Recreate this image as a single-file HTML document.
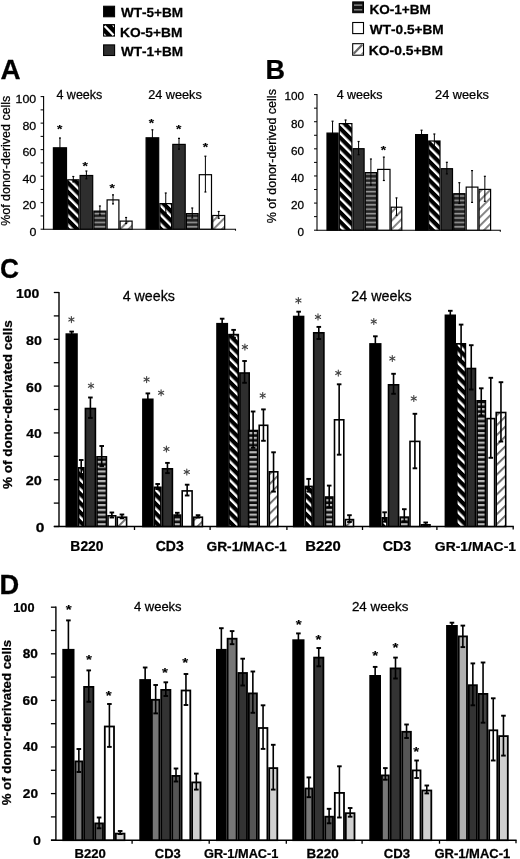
<!DOCTYPE html>
<html><head><meta charset="utf-8"><title>Figure</title>
<style>
html,body{margin:0;padding:0;background:#fff;width:520px;height:859px;overflow:hidden}
svg{display:block;will-change:transform;filter:blur(0.35px);font-family:"Liberation Sans",sans-serif;font-kerning:none}
text{font-kerning:none;stroke:#000;stroke-width:0.25px}
</style></head><body>
<svg width="520" height="859" viewBox="0 0 520 859">
<defs>
<pattern id="hatch" patternUnits="userSpaceOnUse" width="6.6" height="6.6" patternTransform="rotate(-45)">
  <rect width="6.6" height="6.6" fill="#000"/><rect x="0" y="0" width="2.4" height="6.6" fill="#fff"/>
</pattern>
<pattern id="hstripe" patternUnits="userSpaceOnUse" width="10" height="4.4">
  <rect width="10" height="4.4" fill="#222"/><rect x="0" y="1.6" width="10" height="1.6" fill="#9a9a9a"/>
</pattern>
<pattern id="hstripeC" patternUnits="userSpaceOnUse" width="10" height="4.8">
  <rect width="10" height="4.8" fill="#0c0c0c"/><rect x="0" y="0" width="10" height="2.2" fill="#b8b8b8"/>
</pattern>
<pattern id="lhatchC" patternUnits="userSpaceOnUse" width="7" height="7" patternTransform="rotate(45)">
  <rect width="7" height="7" fill="#fff"/><rect x="0" y="0" width="1.8" height="7" fill="#666"/>
</pattern>
<pattern id="lhatch" patternUnits="userSpaceOnUse" width="6" height="6" patternTransform="rotate(45)">
  <rect width="6" height="6" fill="#fff"/><rect x="0" y="0" width="1.9" height="6" fill="#808080"/>
</pattern>
</defs>
<rect width="520" height="859" fill="#fff"/>
<rect x="103.6" y="6.2" width="11" height="10.6" fill="#000" stroke="#000" stroke-width="1"/>
<rect x="103.6" y="24.6" width="10.9" height="11.5" fill="#000" stroke="#000" stroke-width="1"/>
<line x1="104.6" y1="26.0" x2="113.6" y2="35.2" stroke="#fff" stroke-width="2.3"/>
<polygon points="111.9,25.4 114.0,25.4 114.0,27.6" fill="#fff"/>
<polygon points="104.2,33.2 104.2,35.4 106.4,35.4" fill="#fff"/>
<rect x="103.6" y="44.9" width="11" height="10.6" fill="#2e2e2e" stroke="#000" stroke-width="1.1"/>
<text transform="translate(120.99 16.9) scale(1.0478 1)" font-size="12.94" font-weight="bold" fill="#000">WT-5+BM</text>
<text transform="translate(120.08 37) scale(1.0581 1)" font-size="13.03" font-weight="bold" fill="#000">KO-5+BM</text>
<text transform="translate(120.99 56.1) scale(1.0478 1)" font-size="12.94" font-weight="bold" fill="#000">WT-1+BM</text>
<rect x="352.7" y="1.9" width="10.8" height="10.8" fill="#111" stroke="#000" stroke-width="1"/>
<rect x="354" y="4.4" width="8.2" height="1.4" fill="#8a8a8a"/>
<rect x="354" y="9.1" width="8.2" height="1.4" fill="#8a8a8a"/>
<rect x="352.7" y="22.5" width="10.8" height="11.1" fill="#fff" stroke="#000" stroke-width="1.1"/>
<rect x="352.7" y="43.7" width="10.8" height="11.5" fill="#fff" stroke="#000" stroke-width="1.1"/>
<line x1="353.6" y1="53.8" x2="362.2" y2="44.8" stroke="#666" stroke-width="2.2"/>
<polygon points="363,51.8 363,54.7 360.2,54.7" fill="#888"/>
<text transform="translate(369.39 13.9) scale(1.0540 1)" font-size="12.89" font-weight="bold" fill="#000">KO-1+BM</text>
<text transform="translate(369.79 34.2) scale(1.0843 1)" font-size="12.6" font-weight="bold" fill="#000">WT-0.5+BM</text>
<text transform="translate(368.87 55.3) scale(1.0864 1)" font-size="12.75" font-weight="bold" fill="#000">KO-0.5+BM</text>
<text transform="translate(0.51 79.3) scale(1.0200 1)" font-size="27.33" font-weight="bold" fill="#000">A</text>
<text transform="translate(265.49 79.3) scale(0.9745 1)" font-size="27.76" font-weight="bold" fill="#000">B</text>
<text transform="translate(0.12 278.4) scale(0.9372 1)" font-size="28.07" font-weight="bold" fill="#000">C</text>
<text transform="translate(-0.38 593.7) scale(0.9636 1)" font-size="28.34" font-weight="bold" fill="#000">D</text>
<line x1="43.6" y1="96.1" x2="43.6" y2="229.7" stroke="#000" stroke-width="1.1" stroke-linecap="butt"/>
<line x1="43.6" y1="229.2" x2="236" y2="229.2" stroke="#000" stroke-width="1.1" stroke-linecap="butt"/>
<line x1="235.5" y1="229.2" x2="235.5" y2="230.7" stroke="#000" stroke-width="1.1" stroke-linecap="butt"/>
<line x1="40.6" y1="229.2" x2="43.6" y2="229.2" stroke="#000" stroke-width="1" stroke-linecap="butt"/>
<text transform="translate(29.38 235.71) scale(1.0800 1)" font-size="11.5" fill="#000">0</text>
<line x1="40.6" y1="215.94" x2="43.6" y2="215.94" stroke="#000" stroke-width="1" stroke-linecap="butt"/>
<line x1="40.6" y1="202.68" x2="43.6" y2="202.68" stroke="#000" stroke-width="1" stroke-linecap="butt"/>
<text transform="translate(22.47 209.19) scale(1.0800 1)" font-size="11.5" fill="#000">20</text>
<line x1="40.6" y1="189.42" x2="43.6" y2="189.42" stroke="#000" stroke-width="1" stroke-linecap="butt"/>
<line x1="40.6" y1="176.16" x2="43.6" y2="176.16" stroke="#000" stroke-width="1" stroke-linecap="butt"/>
<text transform="translate(22.47 182.67) scale(1.0800 1)" font-size="11.5" fill="#000">40</text>
<line x1="40.6" y1="162.9" x2="43.6" y2="162.9" stroke="#000" stroke-width="1" stroke-linecap="butt"/>
<line x1="40.6" y1="149.64" x2="43.6" y2="149.64" stroke="#000" stroke-width="1" stroke-linecap="butt"/>
<text transform="translate(22.47 156.15) scale(1.0800 1)" font-size="11.5" fill="#000">60</text>
<line x1="40.6" y1="136.38" x2="43.6" y2="136.38" stroke="#000" stroke-width="1" stroke-linecap="butt"/>
<line x1="40.6" y1="123.12" x2="43.6" y2="123.12" stroke="#000" stroke-width="1" stroke-linecap="butt"/>
<text transform="translate(22.47 129.63) scale(1.0800 1)" font-size="11.5" fill="#000">80</text>
<line x1="40.6" y1="109.86" x2="43.6" y2="109.86" stroke="#000" stroke-width="1" stroke-linecap="butt"/>
<line x1="40.6" y1="96.6" x2="43.6" y2="96.6" stroke="#000" stroke-width="1" stroke-linecap="butt"/>
<text transform="translate(15.56 103.11) scale(1.0800 1)" font-size="11.5" fill="#000">100</text>
<text transform="translate(10 225.84) rotate(-90) scale(1.0267 1)" font-size="12.14" fill="#000">%of donor-derived cells</text>
<text transform="translate(56.41 98.8) scale(1.0082 1)" font-size="12.42" fill="#000">4 weeks</text>
<text transform="translate(148.16 99.2) scale(0.9992 1)" font-size="12.7" fill="#000">24 weeks</text>
<rect x="53.4" y="147.8" width="13.1" height="81.4" fill="#000" stroke="#000" stroke-width="1.2"/>
<rect x="67.7" y="179.8" width="11.2" height="49.4" fill="url(#hatch)" stroke="#000" stroke-width="1.2"/>
<rect x="80.1" y="175.5" width="12.6" height="53.7" fill="#2e2e2e" stroke="#000" stroke-width="1.2"/>
<rect x="93.9" y="211.1" width="12" height="18.1" fill="url(#hstripe)" stroke="#000" stroke-width="1.2"/>
<rect x="107.1" y="199.9" width="11.8" height="29.3" fill="#fff" stroke="#000" stroke-width="1.2"/>
<rect x="120.1" y="221.1" width="12" height="8.1" fill="url(#lhatch)" stroke="#000" stroke-width="1.2"/>
<line x1="59.95" y1="138" x2="59.95" y2="156.4" stroke="#000" stroke-width="1" stroke-linecap="butt"/>
<line x1="58.95" y1="138" x2="60.95" y2="138" stroke="#000" stroke-width="1.2" stroke-linecap="butt"/>
<line x1="58.95" y1="156.4" x2="60.95" y2="156.4" stroke="#000" stroke-width="1.2" stroke-linecap="butt"/>
<line x1="73.3" y1="176.5" x2="73.3" y2="181.9" stroke="#000" stroke-width="1" stroke-linecap="butt"/>
<line x1="72.3" y1="176.5" x2="74.3" y2="176.5" stroke="#000" stroke-width="1.2" stroke-linecap="butt"/>
<line x1="72.3" y1="181.9" x2="74.3" y2="181.9" stroke="#000" stroke-width="1.2" stroke-linecap="butt"/>
<line x1="86.4" y1="171" x2="86.4" y2="178.8" stroke="#000" stroke-width="1" stroke-linecap="butt"/>
<line x1="85.4" y1="171" x2="87.4" y2="171" stroke="#000" stroke-width="1.2" stroke-linecap="butt"/>
<line x1="85.4" y1="178.8" x2="87.4" y2="178.8" stroke="#000" stroke-width="1.2" stroke-linecap="butt"/>
<line x1="99.9" y1="206" x2="99.9" y2="215" stroke="#000" stroke-width="1" stroke-linecap="butt"/>
<line x1="98.9" y1="206" x2="100.9" y2="206" stroke="#000" stroke-width="1.2" stroke-linecap="butt"/>
<line x1="98.9" y1="215" x2="100.9" y2="215" stroke="#000" stroke-width="1.2" stroke-linecap="butt"/>
<line x1="113" y1="194.8" x2="113" y2="203.8" stroke="#000" stroke-width="1" stroke-linecap="butt"/>
<line x1="112" y1="194.8" x2="114" y2="194.8" stroke="#000" stroke-width="1.2" stroke-linecap="butt"/>
<line x1="112" y1="203.8" x2="114" y2="203.8" stroke="#000" stroke-width="1.2" stroke-linecap="butt"/>
<line x1="126.1" y1="217.5" x2="126.1" y2="223.5" stroke="#000" stroke-width="1" stroke-linecap="butt"/>
<line x1="125.1" y1="217.5" x2="127.1" y2="217.5" stroke="#000" stroke-width="1.2" stroke-linecap="butt"/>
<line x1="125.1" y1="223.5" x2="127.1" y2="223.5" stroke="#000" stroke-width="1.2" stroke-linecap="butt"/>
<text transform="translate(59.7 127.6) scale(1 0.85)" x="-2.7" y="6.93" font-size="13.8" font-weight="bold" fill="#000" style="stroke-width:0.15px">*</text>
<text transform="translate(85.2 164.2) scale(1 0.85)" x="-2.7" y="6.93" font-size="13.8" font-weight="bold" fill="#000" style="stroke-width:0.15px">*</text>
<text transform="translate(112.2 186.2) scale(1 0.85)" x="-2.7" y="6.93" font-size="13.8" font-weight="bold" fill="#000" style="stroke-width:0.15px">*</text>
<rect x="146.1" y="137.8" width="12.6" height="91.4" fill="#000" stroke="#000" stroke-width="1.2"/>
<rect x="159.9" y="203.6" width="11.7" height="25.6" fill="url(#hatch)" stroke="#000" stroke-width="1.2"/>
<rect x="172.8" y="144.4" width="12.4" height="84.8" fill="#2e2e2e" stroke="#000" stroke-width="1.2"/>
<rect x="186.4" y="213.6" width="11.7" height="15.6" fill="url(#hstripe)" stroke="#000" stroke-width="1.2"/>
<rect x="199.3" y="174.7" width="12.2" height="54.5" fill="#fff" stroke="#000" stroke-width="1.2"/>
<rect x="212.7" y="215.5" width="12" height="13.7" fill="url(#lhatch)" stroke="#000" stroke-width="1.2"/>
<line x1="152.4" y1="129.8" x2="152.4" y2="144.6" stroke="#000" stroke-width="1" stroke-linecap="butt"/>
<line x1="151.4" y1="129.8" x2="153.4" y2="129.8" stroke="#000" stroke-width="1.2" stroke-linecap="butt"/>
<line x1="151.4" y1="144.6" x2="153.4" y2="144.6" stroke="#000" stroke-width="1.2" stroke-linecap="butt"/>
<line x1="165.75" y1="193" x2="165.75" y2="213" stroke="#000" stroke-width="1" stroke-linecap="butt"/>
<line x1="164.75" y1="193" x2="166.75" y2="193" stroke="#000" stroke-width="1.2" stroke-linecap="butt"/>
<line x1="164.75" y1="213" x2="166.75" y2="213" stroke="#000" stroke-width="1.2" stroke-linecap="butt"/>
<line x1="179" y1="138.4" x2="179" y2="149.2" stroke="#000" stroke-width="1" stroke-linecap="butt"/>
<line x1="178" y1="138.4" x2="180" y2="138.4" stroke="#000" stroke-width="1.2" stroke-linecap="butt"/>
<line x1="178" y1="149.2" x2="180" y2="149.2" stroke="#000" stroke-width="1.2" stroke-linecap="butt"/>
<line x1="192.25" y1="208" x2="192.25" y2="218" stroke="#000" stroke-width="1" stroke-linecap="butt"/>
<line x1="191.25" y1="208" x2="193.25" y2="208" stroke="#000" stroke-width="1.2" stroke-linecap="butt"/>
<line x1="191.25" y1="218" x2="193.25" y2="218" stroke="#000" stroke-width="1.2" stroke-linecap="butt"/>
<line x1="205.4" y1="156.2" x2="205.4" y2="192" stroke="#000" stroke-width="1" stroke-linecap="butt"/>
<line x1="204.4" y1="156.2" x2="206.4" y2="156.2" stroke="#000" stroke-width="1.2" stroke-linecap="butt"/>
<line x1="204.4" y1="192" x2="206.4" y2="192" stroke="#000" stroke-width="1.2" stroke-linecap="butt"/>
<line x1="218.7" y1="211.5" x2="218.7" y2="218.3" stroke="#000" stroke-width="1" stroke-linecap="butt"/>
<line x1="217.7" y1="211.5" x2="219.7" y2="211.5" stroke="#000" stroke-width="1.2" stroke-linecap="butt"/>
<line x1="217.7" y1="218.3" x2="219.7" y2="218.3" stroke="#000" stroke-width="1.2" stroke-linecap="butt"/>
<text transform="translate(151.5 120.9) scale(1 0.85)" x="-2.7" y="6.93" font-size="13.8" font-weight="bold" fill="#000" style="stroke-width:0.15px">*</text>
<text transform="translate(178.6 126.8) scale(1 0.85)" x="-2.7" y="6.93" font-size="13.8" font-weight="bold" fill="#000" style="stroke-width:0.15px">*</text>
<text transform="translate(205.4 145.3) scale(1 0.85)" x="-2.7" y="6.93" font-size="13.8" font-weight="bold" fill="#000" style="stroke-width:0.15px">*</text>
<line x1="317" y1="94.1" x2="317" y2="230.7" stroke="#000" stroke-width="1.1" stroke-linecap="butt"/>
<line x1="317" y1="230.2" x2="500.8" y2="230.2" stroke="#000" stroke-width="1.1" stroke-linecap="butt"/>
<line x1="500.3" y1="230.2" x2="500.3" y2="231.7" stroke="#000" stroke-width="1.1" stroke-linecap="butt"/>
<line x1="314" y1="230.2" x2="317" y2="230.2" stroke="#000" stroke-width="1" stroke-linecap="butt"/>
<text transform="translate(297.61 236.01) scale(1.0800 1)" font-size="10.9" fill="#000">0</text>
<line x1="314" y1="216.64" x2="317" y2="216.64" stroke="#000" stroke-width="1" stroke-linecap="butt"/>
<line x1="314" y1="203.08" x2="317" y2="203.08" stroke="#000" stroke-width="1" stroke-linecap="butt"/>
<text transform="translate(291.07 208.89) scale(1.0800 1)" font-size="10.9" fill="#000">20</text>
<line x1="314" y1="189.52" x2="317" y2="189.52" stroke="#000" stroke-width="1" stroke-linecap="butt"/>
<line x1="314" y1="175.96" x2="317" y2="175.96" stroke="#000" stroke-width="1" stroke-linecap="butt"/>
<text transform="translate(291.07 181.77) scale(1.0800 1)" font-size="10.9" fill="#000">40</text>
<line x1="314" y1="162.4" x2="317" y2="162.4" stroke="#000" stroke-width="1" stroke-linecap="butt"/>
<line x1="314" y1="148.84" x2="317" y2="148.84" stroke="#000" stroke-width="1" stroke-linecap="butt"/>
<text transform="translate(291.07 154.65) scale(1.0800 1)" font-size="10.9" fill="#000">60</text>
<line x1="314" y1="135.28" x2="317" y2="135.28" stroke="#000" stroke-width="1" stroke-linecap="butt"/>
<line x1="314" y1="121.72" x2="317" y2="121.72" stroke="#000" stroke-width="1" stroke-linecap="butt"/>
<text transform="translate(291.07 127.53) scale(1.0800 1)" font-size="10.9" fill="#000">80</text>
<line x1="314" y1="108.16" x2="317" y2="108.16" stroke="#000" stroke-width="1" stroke-linecap="butt"/>
<line x1="314" y1="94.6" x2="317" y2="94.6" stroke="#000" stroke-width="1" stroke-linecap="butt"/>
<text transform="translate(284.52 100.41) scale(1.0800 1)" font-size="10.9" fill="#000">100</text>
<text transform="translate(276.3 223.25) rotate(-90) scale(1.0427 1)" font-size="12.01" fill="#000">% of donor-derived cells</text>
<text transform="translate(336.71 99) scale(1.0266 1)" font-size="12.14" fill="#000">4 weeks</text>
<text transform="translate(435.06 99.4) scale(1.0273 1)" font-size="12.42" fill="#000">24 weeks</text>
<rect x="327" y="133.1" width="11.1" height="97.1" fill="#000" stroke="#000" stroke-width="1.2"/>
<rect x="339.3" y="123.6" width="12.6" height="106.6" fill="url(#hatch)" stroke="#000" stroke-width="1.2"/>
<rect x="353.1" y="148.7" width="11" height="81.5" fill="#2e2e2e" stroke="#000" stroke-width="1.2"/>
<rect x="365.3" y="172.6" width="11.2" height="57.6" fill="url(#hstripe)" stroke="#000" stroke-width="1.2"/>
<rect x="377.7" y="169.4" width="12.3" height="60.8" fill="#fff" stroke="#000" stroke-width="1.2"/>
<rect x="391.2" y="207.2" width="10.6" height="23" fill="url(#lhatch)" stroke="#000" stroke-width="1.2"/>
<line x1="332.55" y1="121.2" x2="332.55" y2="143.8" stroke="#000" stroke-width="1" stroke-linecap="butt"/>
<line x1="331.55" y1="121.2" x2="333.55" y2="121.2" stroke="#000" stroke-width="1.2" stroke-linecap="butt"/>
<line x1="331.55" y1="143.8" x2="333.55" y2="143.8" stroke="#000" stroke-width="1.2" stroke-linecap="butt"/>
<line x1="345.6" y1="120" x2="345.6" y2="126" stroke="#000" stroke-width="1" stroke-linecap="butt"/>
<line x1="344.6" y1="120" x2="346.6" y2="120" stroke="#000" stroke-width="1.2" stroke-linecap="butt"/>
<line x1="344.6" y1="126" x2="346.6" y2="126" stroke="#000" stroke-width="1.2" stroke-linecap="butt"/>
<line x1="358.6" y1="141.5" x2="358.6" y2="154.7" stroke="#000" stroke-width="1" stroke-linecap="butt"/>
<line x1="357.6" y1="141.5" x2="359.6" y2="141.5" stroke="#000" stroke-width="1.2" stroke-linecap="butt"/>
<line x1="357.6" y1="154.7" x2="359.6" y2="154.7" stroke="#000" stroke-width="1.2" stroke-linecap="butt"/>
<line x1="370.9" y1="159" x2="370.9" y2="185" stroke="#000" stroke-width="1" stroke-linecap="butt"/>
<line x1="369.9" y1="159" x2="371.9" y2="159" stroke="#000" stroke-width="1.2" stroke-linecap="butt"/>
<line x1="369.9" y1="185" x2="371.9" y2="185" stroke="#000" stroke-width="1.2" stroke-linecap="butt"/>
<line x1="383.85" y1="157.1" x2="383.85" y2="180.5" stroke="#000" stroke-width="1" stroke-linecap="butt"/>
<line x1="382.85" y1="157.1" x2="384.85" y2="157.1" stroke="#000" stroke-width="1.2" stroke-linecap="butt"/>
<line x1="382.85" y1="180.5" x2="384.85" y2="180.5" stroke="#000" stroke-width="1.2" stroke-linecap="butt"/>
<line x1="396.5" y1="197.9" x2="396.5" y2="215.3" stroke="#000" stroke-width="1" stroke-linecap="butt"/>
<line x1="395.5" y1="197.9" x2="397.5" y2="197.9" stroke="#000" stroke-width="1.2" stroke-linecap="butt"/>
<line x1="395.5" y1="215.3" x2="397.5" y2="215.3" stroke="#000" stroke-width="1.2" stroke-linecap="butt"/>
<text transform="translate(383.4 148.4) scale(1 0.85)" x="-2.7" y="6.93" font-size="13.8" font-weight="bold" fill="#000" style="stroke-width:0.15px">*</text>
<rect x="415.6" y="134.6" width="11.9" height="95.6" fill="#000" stroke="#000" stroke-width="1.2"/>
<rect x="428.7" y="141" width="11.3" height="89.2" fill="url(#hatch)" stroke="#000" stroke-width="1.2"/>
<rect x="441.2" y="168.7" width="11.3" height="61.5" fill="#2e2e2e" stroke="#000" stroke-width="1.2"/>
<rect x="453.7" y="193.7" width="11.3" height="36.5" fill="url(#hstripe)" stroke="#000" stroke-width="1.2"/>
<rect x="466.2" y="187.1" width="11.7" height="43.1" fill="#fff" stroke="#000" stroke-width="1.2"/>
<rect x="479.1" y="189.4" width="11.5" height="40.8" fill="url(#lhatch)" stroke="#000" stroke-width="1.2"/>
<line x1="421.55" y1="130.2" x2="421.55" y2="137.8" stroke="#000" stroke-width="1" stroke-linecap="butt"/>
<line x1="420.55" y1="130.2" x2="422.55" y2="130.2" stroke="#000" stroke-width="1.2" stroke-linecap="butt"/>
<line x1="420.55" y1="137.8" x2="422.55" y2="137.8" stroke="#000" stroke-width="1.2" stroke-linecap="butt"/>
<line x1="434.35" y1="134" x2="434.35" y2="146.8" stroke="#000" stroke-width="1" stroke-linecap="butt"/>
<line x1="433.35" y1="134" x2="435.35" y2="134" stroke="#000" stroke-width="1.2" stroke-linecap="butt"/>
<line x1="433.35" y1="146.8" x2="435.35" y2="146.8" stroke="#000" stroke-width="1.2" stroke-linecap="butt"/>
<line x1="446.85" y1="162.3" x2="446.85" y2="173.9" stroke="#000" stroke-width="1" stroke-linecap="butt"/>
<line x1="445.85" y1="162.3" x2="447.85" y2="162.3" stroke="#000" stroke-width="1.2" stroke-linecap="butt"/>
<line x1="445.85" y1="173.9" x2="447.85" y2="173.9" stroke="#000" stroke-width="1.2" stroke-linecap="butt"/>
<line x1="459.35" y1="182.7" x2="459.35" y2="203.5" stroke="#000" stroke-width="1" stroke-linecap="butt"/>
<line x1="458.35" y1="182.7" x2="460.35" y2="182.7" stroke="#000" stroke-width="1.2" stroke-linecap="butt"/>
<line x1="458.35" y1="203.5" x2="460.35" y2="203.5" stroke="#000" stroke-width="1.2" stroke-linecap="butt"/>
<line x1="472.05" y1="170.6" x2="472.05" y2="202.4" stroke="#000" stroke-width="1" stroke-linecap="butt"/>
<line x1="471.05" y1="170.6" x2="473.05" y2="170.6" stroke="#000" stroke-width="1.2" stroke-linecap="butt"/>
<line x1="471.05" y1="202.4" x2="473.05" y2="202.4" stroke="#000" stroke-width="1.2" stroke-linecap="butt"/>
<line x1="484.85" y1="176.3" x2="484.85" y2="201.3" stroke="#000" stroke-width="1" stroke-linecap="butt"/>
<line x1="483.85" y1="176.3" x2="485.85" y2="176.3" stroke="#000" stroke-width="1.2" stroke-linecap="butt"/>
<line x1="483.85" y1="201.3" x2="485.85" y2="201.3" stroke="#000" stroke-width="1.2" stroke-linecap="butt"/>
<line x1="59" y1="291.9" x2="59" y2="527.1" stroke="#000" stroke-width="1.4" stroke-linecap="butt"/>
<line x1="53.8" y1="526.5" x2="513.8" y2="526.5" stroke="#000" stroke-width="1.4" stroke-linecap="butt"/>
<line x1="53.8" y1="526.5" x2="59" y2="526.5" stroke="#000" stroke-width="1.3" stroke-linecap="butt"/>
<line x1="53.8" y1="503.1" x2="59" y2="503.1" stroke="#000" stroke-width="1.3" stroke-linecap="butt"/>
<line x1="53.8" y1="479.7" x2="59" y2="479.7" stroke="#000" stroke-width="1.3" stroke-linecap="butt"/>
<line x1="53.8" y1="456.3" x2="59" y2="456.3" stroke="#000" stroke-width="1.3" stroke-linecap="butt"/>
<line x1="53.8" y1="432.9" x2="59" y2="432.9" stroke="#000" stroke-width="1.3" stroke-linecap="butt"/>
<line x1="53.8" y1="409.5" x2="59" y2="409.5" stroke="#000" stroke-width="1.3" stroke-linecap="butt"/>
<line x1="53.8" y1="386.1" x2="59" y2="386.1" stroke="#000" stroke-width="1.3" stroke-linecap="butt"/>
<line x1="53.8" y1="362.7" x2="59" y2="362.7" stroke="#000" stroke-width="1.3" stroke-linecap="butt"/>
<line x1="53.8" y1="339.3" x2="59" y2="339.3" stroke="#000" stroke-width="1.3" stroke-linecap="butt"/>
<line x1="53.8" y1="315.9" x2="59" y2="315.9" stroke="#000" stroke-width="1.3" stroke-linecap="butt"/>
<line x1="53.8" y1="292.5" x2="59" y2="292.5" stroke="#000" stroke-width="1.3" stroke-linecap="butt"/>
<line x1="134.5" y1="526.5" x2="134.5" y2="530" stroke="#000" stroke-width="1.3" stroke-linecap="butt"/>
<line x1="210.1" y1="526.5" x2="210.1" y2="530" stroke="#000" stroke-width="1.3" stroke-linecap="butt"/>
<line x1="286.9" y1="526.5" x2="286.9" y2="530" stroke="#000" stroke-width="1.3" stroke-linecap="butt"/>
<line x1="362.5" y1="526.5" x2="362.5" y2="530" stroke="#000" stroke-width="1.3" stroke-linecap="butt"/>
<line x1="436.9" y1="526.5" x2="436.9" y2="530" stroke="#000" stroke-width="1.3" stroke-linecap="butt"/>
<line x1="513.2" y1="526.5" x2="513.2" y2="529.5" stroke="#000" stroke-width="1.3" stroke-linecap="butt"/>
<text transform="translate(16.02 297.75) scale(1.0510 1)" font-size="13.32" font-weight="bold" fill="#000">100</text>
<text transform="translate(26.05 344.55) scale(1.0653 1)" font-size="13.32" font-weight="bold" fill="#000">80</text>
<text transform="translate(25.98 391.65) scale(1.0703 1)" font-size="13.32" font-weight="bold" fill="#000">60</text>
<text transform="translate(26.29 438.15) scale(1.0485 1)" font-size="13.32" font-weight="bold" fill="#000">40</text>
<text transform="translate(25.8 485.25) scale(1.0828 1)" font-size="13.32" font-weight="bold" fill="#000">20</text>
<text transform="translate(35.78 531.75) scale(1.1682 1)" font-size="13.32" font-weight="bold" fill="#000">0</text>
<text transform="translate(12.1 488.94) rotate(-90) scale(1.0085 1)" font-size="13.39" font-weight="bold" fill="#000">% of donor-derivated cells</text>
<text transform="translate(122.67 301.3) scale(1.0339 1)" font-size="13.8" fill="#000">4 weeks</text>
<text transform="translate(351.28 301.3) scale(1.0384 1)" font-size="13.8" fill="#000">24 weeks</text>
<text transform="translate(70.37 551.4) scale(0.9996 1)" font-size="13.89" font-weight="bold" fill="#000">B220</text>
<text transform="translate(155.72 551.4) scale(1.0105 1)" font-size="13.89" font-weight="bold" fill="#000">CD3</text>
<text transform="translate(206.44 551.4) scale(1.0276 1)" font-size="13.39" font-weight="bold" fill="#000">GR-1/MAC-1</text>
<text transform="translate(305.31 551.4) scale(1.0690 1)" font-size="13.89" font-weight="bold" fill="#000">B220</text>
<text transform="translate(382.71 551.4) scale(1.0292 1)" font-size="13.89" font-weight="bold" fill="#000">CD3</text>
<text transform="translate(434.83 551.4) scale(1.0406 1)" font-size="13.39" font-weight="bold" fill="#000">GR-1/MAC-1</text>
<rect x="66.3" y="334.1" width="10.7" height="192.4" fill="#000" stroke="#000" stroke-width="1.6"/>
<rect x="78.6" y="467.8" width="5.2" height="58.7" fill="url(#hatch)" stroke="#000" stroke-width="1.6"/>
<rect x="85.4" y="408.5" width="10" height="118" fill="#2e2e2e" stroke="#000" stroke-width="1.6"/>
<rect x="97" y="456.8" width="9.4" height="69.7" fill="url(#hstripeC)" stroke="#000" stroke-width="1.6"/>
<rect x="108" y="515.8" width="7.7" height="10.7" fill="#fff" stroke="#000" stroke-width="1.6"/>
<rect x="117.3" y="517.2" width="9.3" height="9.3" fill="url(#lhatchC)" stroke="#000" stroke-width="1.6"/>
<line x1="71.65" y1="331.6" x2="71.65" y2="335" stroke="#000" stroke-width="1.6" stroke-linecap="butt"/>
<line x1="69.35" y1="331.6" x2="73.95" y2="331.6" stroke="#000" stroke-width="1.92" stroke-linecap="butt"/>
<line x1="69.35" y1="335" x2="73.95" y2="335" stroke="#000" stroke-width="1.92" stroke-linecap="butt"/>
<line x1="81.2" y1="460" x2="81.2" y2="474" stroke="#000" stroke-width="1.6" stroke-linecap="butt"/>
<line x1="78.9" y1="460" x2="83.5" y2="460" stroke="#000" stroke-width="1.92" stroke-linecap="butt"/>
<line x1="78.9" y1="474" x2="83.5" y2="474" stroke="#000" stroke-width="1.92" stroke-linecap="butt"/>
<line x1="90.4" y1="397.5" x2="90.4" y2="417.9" stroke="#000" stroke-width="1.6" stroke-linecap="butt"/>
<line x1="88.1" y1="397.5" x2="92.7" y2="397.5" stroke="#000" stroke-width="1.92" stroke-linecap="butt"/>
<line x1="88.1" y1="417.9" x2="92.7" y2="417.9" stroke="#000" stroke-width="1.92" stroke-linecap="butt"/>
<line x1="101.7" y1="446" x2="101.7" y2="466" stroke="#000" stroke-width="1.6" stroke-linecap="butt"/>
<line x1="99.4" y1="446" x2="104" y2="446" stroke="#000" stroke-width="1.92" stroke-linecap="butt"/>
<line x1="99.4" y1="466" x2="104" y2="466" stroke="#000" stroke-width="1.92" stroke-linecap="butt"/>
<line x1="111.85" y1="512.5" x2="111.85" y2="517.5" stroke="#000" stroke-width="1.6" stroke-linecap="butt"/>
<line x1="109.55" y1="512.5" x2="114.15" y2="512.5" stroke="#000" stroke-width="1.92" stroke-linecap="butt"/>
<line x1="109.55" y1="517.5" x2="114.15" y2="517.5" stroke="#000" stroke-width="1.92" stroke-linecap="butt"/>
<line x1="121.95" y1="514.5" x2="121.95" y2="518.3" stroke="#000" stroke-width="1.6" stroke-linecap="butt"/>
<line x1="119.65" y1="514.5" x2="124.25" y2="514.5" stroke="#000" stroke-width="1.92" stroke-linecap="butt"/>
<line x1="119.65" y1="518.3" x2="124.25" y2="518.3" stroke="#000" stroke-width="1.92" stroke-linecap="butt"/>
<line x1="71.4" y1="316.6" x2="71.4" y2="322.6" stroke="#444" stroke-width="1.1" stroke-linecap="round"/>
<line x1="74" y1="318.1" x2="68.8" y2="321.1" stroke="#444" stroke-width="1.1" stroke-linecap="round"/>
<line x1="74" y1="321.1" x2="68.8" y2="318.1" stroke="#444" stroke-width="1.1" stroke-linecap="round"/>
<line x1="91" y1="382.8" x2="91" y2="388.8" stroke="#444" stroke-width="1.1" stroke-linecap="round"/>
<line x1="93.6" y1="384.3" x2="88.4" y2="387.3" stroke="#444" stroke-width="1.1" stroke-linecap="round"/>
<line x1="93.6" y1="387.3" x2="88.4" y2="384.3" stroke="#444" stroke-width="1.1" stroke-linecap="round"/>
<rect x="142.9" y="399.3" width="9.9" height="127.2" fill="#000" stroke="#000" stroke-width="1.6"/>
<rect x="154.4" y="487.3" width="6.5" height="39.2" fill="url(#hatch)" stroke="#000" stroke-width="1.6"/>
<rect x="162.5" y="468.8" width="9.9" height="57.7" fill="#2e2e2e" stroke="#000" stroke-width="1.6"/>
<rect x="174" y="515.1" width="6.6" height="11.4" fill="url(#hstripeC)" stroke="#000" stroke-width="1.6"/>
<rect x="182.2" y="490.9" width="9.9" height="35.6" fill="#fff" stroke="#000" stroke-width="1.6"/>
<rect x="193.7" y="517.2" width="8.7" height="9.3" fill="url(#lhatchC)" stroke="#000" stroke-width="1.6"/>
<line x1="147.85" y1="393.4" x2="147.85" y2="403.6" stroke="#000" stroke-width="1.6" stroke-linecap="butt"/>
<line x1="145.55" y1="393.4" x2="150.15" y2="393.4" stroke="#000" stroke-width="1.92" stroke-linecap="butt"/>
<line x1="145.55" y1="403.6" x2="150.15" y2="403.6" stroke="#000" stroke-width="1.92" stroke-linecap="butt"/>
<line x1="157.65" y1="484" x2="157.65" y2="489" stroke="#000" stroke-width="1.6" stroke-linecap="butt"/>
<line x1="155.35" y1="484" x2="159.95" y2="484" stroke="#000" stroke-width="1.92" stroke-linecap="butt"/>
<line x1="155.35" y1="489" x2="159.95" y2="489" stroke="#000" stroke-width="1.92" stroke-linecap="butt"/>
<line x1="167.45" y1="462.9" x2="167.45" y2="473.1" stroke="#000" stroke-width="1.6" stroke-linecap="butt"/>
<line x1="165.15" y1="462.9" x2="169.75" y2="462.9" stroke="#000" stroke-width="1.92" stroke-linecap="butt"/>
<line x1="165.15" y1="473.1" x2="169.75" y2="473.1" stroke="#000" stroke-width="1.92" stroke-linecap="butt"/>
<line x1="177.3" y1="512.8" x2="177.3" y2="515.8" stroke="#000" stroke-width="1.6" stroke-linecap="butt"/>
<line x1="175" y1="512.8" x2="179.6" y2="512.8" stroke="#000" stroke-width="1.92" stroke-linecap="butt"/>
<line x1="175" y1="515.8" x2="179.6" y2="515.8" stroke="#000" stroke-width="1.92" stroke-linecap="butt"/>
<line x1="187.15" y1="484.7" x2="187.15" y2="495.5" stroke="#000" stroke-width="1.6" stroke-linecap="butt"/>
<line x1="184.85" y1="484.7" x2="189.45" y2="484.7" stroke="#000" stroke-width="1.92" stroke-linecap="butt"/>
<line x1="184.85" y1="495.5" x2="189.45" y2="495.5" stroke="#000" stroke-width="1.92" stroke-linecap="butt"/>
<line x1="198.05" y1="515.2" x2="198.05" y2="517.6" stroke="#000" stroke-width="1.6" stroke-linecap="butt"/>
<line x1="195.75" y1="515.2" x2="200.35" y2="515.2" stroke="#000" stroke-width="1.92" stroke-linecap="butt"/>
<line x1="195.75" y1="517.6" x2="200.35" y2="517.6" stroke="#000" stroke-width="1.92" stroke-linecap="butt"/>
<line x1="146.6" y1="376.6" x2="146.6" y2="382.6" stroke="#444" stroke-width="1.1" stroke-linecap="round"/>
<line x1="149.2" y1="378.1" x2="144" y2="381.1" stroke="#444" stroke-width="1.1" stroke-linecap="round"/>
<line x1="149.2" y1="381.1" x2="144" y2="378.1" stroke="#444" stroke-width="1.1" stroke-linecap="round"/>
<line x1="161.1" y1="389.8" x2="161.1" y2="395.8" stroke="#444" stroke-width="1.1" stroke-linecap="round"/>
<line x1="163.7" y1="391.3" x2="158.5" y2="394.3" stroke="#444" stroke-width="1.1" stroke-linecap="round"/>
<line x1="163.7" y1="394.3" x2="158.5" y2="391.3" stroke="#444" stroke-width="1.1" stroke-linecap="round"/>
<line x1="166.4" y1="446" x2="166.4" y2="452" stroke="#444" stroke-width="1.1" stroke-linecap="round"/>
<line x1="169" y1="447.5" x2="163.8" y2="450.5" stroke="#444" stroke-width="1.1" stroke-linecap="round"/>
<line x1="169" y1="450.5" x2="163.8" y2="447.5" stroke="#444" stroke-width="1.1" stroke-linecap="round"/>
<line x1="186.8" y1="469" x2="186.8" y2="475" stroke="#444" stroke-width="1.1" stroke-linecap="round"/>
<line x1="189.4" y1="470.5" x2="184.2" y2="473.5" stroke="#444" stroke-width="1.1" stroke-linecap="round"/>
<line x1="189.4" y1="473.5" x2="184.2" y2="470.5" stroke="#444" stroke-width="1.1" stroke-linecap="round"/>
<rect x="217" y="323.7" width="10.3" height="202.8" fill="#000" stroke="#000" stroke-width="1.6"/>
<rect x="228.9" y="334.6" width="9.4" height="191.9" fill="url(#hatch)" stroke="#000" stroke-width="1.6"/>
<rect x="239.9" y="373" width="9.3" height="153.5" fill="#2e2e2e" stroke="#000" stroke-width="1.6"/>
<rect x="248.6" y="430.5" width="9" height="96" fill="url(#hstripeC)" stroke="#000" stroke-width="1.6"/>
<rect x="259.2" y="425.3" width="8.5" height="101.2" fill="#fff" stroke="#000" stroke-width="1.6"/>
<rect x="269.3" y="471.8" width="8.5" height="54.7" fill="url(#lhatchC)" stroke="#000" stroke-width="1.6"/>
<line x1="222.15" y1="318.7" x2="222.15" y2="327" stroke="#000" stroke-width="1.6" stroke-linecap="butt"/>
<line x1="219.85" y1="318.7" x2="224.45" y2="318.7" stroke="#000" stroke-width="1.92" stroke-linecap="butt"/>
<line x1="219.85" y1="327" x2="224.45" y2="327" stroke="#000" stroke-width="1.92" stroke-linecap="butt"/>
<line x1="233.6" y1="329.9" x2="233.6" y2="337.7" stroke="#000" stroke-width="1.6" stroke-linecap="butt"/>
<line x1="231.3" y1="329.9" x2="235.9" y2="329.9" stroke="#000" stroke-width="1.92" stroke-linecap="butt"/>
<line x1="231.3" y1="337.7" x2="235.9" y2="337.7" stroke="#000" stroke-width="1.92" stroke-linecap="butt"/>
<line x1="244.55" y1="361" x2="244.55" y2="382.8" stroke="#000" stroke-width="1.6" stroke-linecap="butt"/>
<line x1="242.25" y1="361" x2="246.85" y2="361" stroke="#000" stroke-width="1.92" stroke-linecap="butt"/>
<line x1="242.25" y1="382.8" x2="246.85" y2="382.8" stroke="#000" stroke-width="1.92" stroke-linecap="butt"/>
<line x1="253.1" y1="411.5" x2="253.1" y2="447.8" stroke="#000" stroke-width="1.6" stroke-linecap="butt"/>
<line x1="250.8" y1="411.5" x2="255.4" y2="411.5" stroke="#000" stroke-width="1.92" stroke-linecap="butt"/>
<line x1="250.8" y1="447.8" x2="255.4" y2="447.8" stroke="#000" stroke-width="1.92" stroke-linecap="butt"/>
<line x1="263.45" y1="409.4" x2="263.45" y2="440.8" stroke="#000" stroke-width="1.6" stroke-linecap="butt"/>
<line x1="261.15" y1="409.4" x2="265.75" y2="409.4" stroke="#000" stroke-width="1.92" stroke-linecap="butt"/>
<line x1="261.15" y1="440.8" x2="265.75" y2="440.8" stroke="#000" stroke-width="1.92" stroke-linecap="butt"/>
<line x1="273.55" y1="452.3" x2="273.55" y2="491.6" stroke="#000" stroke-width="1.6" stroke-linecap="butt"/>
<line x1="271.25" y1="452.3" x2="275.85" y2="452.3" stroke="#000" stroke-width="1.92" stroke-linecap="butt"/>
<line x1="271.25" y1="491.6" x2="275.85" y2="491.6" stroke="#000" stroke-width="1.92" stroke-linecap="butt"/>
<line x1="244.9" y1="344.1" x2="244.9" y2="350.1" stroke="#444" stroke-width="1.1" stroke-linecap="round"/>
<line x1="247.5" y1="345.6" x2="242.3" y2="348.6" stroke="#444" stroke-width="1.1" stroke-linecap="round"/>
<line x1="247.5" y1="348.6" x2="242.3" y2="345.6" stroke="#444" stroke-width="1.1" stroke-linecap="round"/>
<line x1="262.7" y1="392.5" x2="262.7" y2="398.5" stroke="#444" stroke-width="1.1" stroke-linecap="round"/>
<line x1="265.3" y1="394" x2="260.1" y2="397" stroke="#444" stroke-width="1.1" stroke-linecap="round"/>
<line x1="265.3" y1="397" x2="260.1" y2="394" stroke="#444" stroke-width="1.1" stroke-linecap="round"/>
<rect x="293.7" y="316.5" width="9.9" height="210" fill="#000" stroke="#000" stroke-width="1.6"/>
<rect x="305.2" y="486.4" width="6.9" height="40.1" fill="url(#hatch)" stroke="#000" stroke-width="1.6"/>
<rect x="313.7" y="332.8" width="10.2" height="193.7" fill="#2e2e2e" stroke="#000" stroke-width="1.6"/>
<rect x="325.5" y="497" width="7.4" height="29.5" fill="url(#hstripeC)" stroke="#000" stroke-width="1.6"/>
<rect x="334.5" y="419.8" width="9.3" height="106.7" fill="#fff" stroke="#000" stroke-width="1.6"/>
<rect x="345.4" y="519.6" width="8.1" height="6.9" fill="url(#lhatchC)" stroke="#000" stroke-width="1.6"/>
<line x1="298.65" y1="311.7" x2="298.65" y2="319.7" stroke="#000" stroke-width="1.6" stroke-linecap="butt"/>
<line x1="296.35" y1="311.7" x2="300.95" y2="311.7" stroke="#000" stroke-width="1.92" stroke-linecap="butt"/>
<line x1="296.35" y1="319.7" x2="300.95" y2="319.7" stroke="#000" stroke-width="1.92" stroke-linecap="butt"/>
<line x1="308.65" y1="478.9" x2="308.65" y2="491.6" stroke="#000" stroke-width="1.6" stroke-linecap="butt"/>
<line x1="306.35" y1="478.9" x2="310.95" y2="478.9" stroke="#000" stroke-width="1.92" stroke-linecap="butt"/>
<line x1="306.35" y1="491.6" x2="310.95" y2="491.6" stroke="#000" stroke-width="1.92" stroke-linecap="butt"/>
<line x1="318.8" y1="326.9" x2="318.8" y2="339" stroke="#000" stroke-width="1.6" stroke-linecap="butt"/>
<line x1="316.5" y1="326.9" x2="321.1" y2="326.9" stroke="#000" stroke-width="1.92" stroke-linecap="butt"/>
<line x1="316.5" y1="339" x2="321.1" y2="339" stroke="#000" stroke-width="1.92" stroke-linecap="butt"/>
<line x1="329.2" y1="485.6" x2="329.2" y2="507.3" stroke="#000" stroke-width="1.6" stroke-linecap="butt"/>
<line x1="326.9" y1="485.6" x2="331.5" y2="485.6" stroke="#000" stroke-width="1.92" stroke-linecap="butt"/>
<line x1="326.9" y1="507.3" x2="331.5" y2="507.3" stroke="#000" stroke-width="1.92" stroke-linecap="butt"/>
<line x1="339.15" y1="384.3" x2="339.15" y2="454.7" stroke="#000" stroke-width="1.6" stroke-linecap="butt"/>
<line x1="336.85" y1="384.3" x2="341.45" y2="384.3" stroke="#000" stroke-width="1.92" stroke-linecap="butt"/>
<line x1="336.85" y1="454.7" x2="341.45" y2="454.7" stroke="#000" stroke-width="1.92" stroke-linecap="butt"/>
<line x1="349.45" y1="515.2" x2="349.45" y2="522" stroke="#000" stroke-width="1.6" stroke-linecap="butt"/>
<line x1="347.15" y1="515.2" x2="351.75" y2="515.2" stroke="#000" stroke-width="1.92" stroke-linecap="butt"/>
<line x1="347.15" y1="522" x2="351.75" y2="522" stroke="#000" stroke-width="1.92" stroke-linecap="butt"/>
<line x1="298.4" y1="297.6" x2="298.4" y2="303.6" stroke="#444" stroke-width="1.1" stroke-linecap="round"/>
<line x1="301" y1="299.1" x2="295.8" y2="302.1" stroke="#444" stroke-width="1.1" stroke-linecap="round"/>
<line x1="301" y1="302.1" x2="295.8" y2="299.1" stroke="#444" stroke-width="1.1" stroke-linecap="round"/>
<line x1="318" y1="313.9" x2="318" y2="319.9" stroke="#444" stroke-width="1.1" stroke-linecap="round"/>
<line x1="320.6" y1="315.4" x2="315.4" y2="318.4" stroke="#444" stroke-width="1.1" stroke-linecap="round"/>
<line x1="320.6" y1="318.4" x2="315.4" y2="315.4" stroke="#444" stroke-width="1.1" stroke-linecap="round"/>
<line x1="338.3" y1="370.1" x2="338.3" y2="376.1" stroke="#444" stroke-width="1.1" stroke-linecap="round"/>
<line x1="340.9" y1="371.6" x2="335.7" y2="374.6" stroke="#444" stroke-width="1.1" stroke-linecap="round"/>
<line x1="340.9" y1="374.6" x2="335.7" y2="371.6" stroke="#444" stroke-width="1.1" stroke-linecap="round"/>
<rect x="370" y="343.9" width="10.7" height="182.6" fill="#000" stroke="#000" stroke-width="1.6"/>
<rect x="382.3" y="517.8" width="4.6" height="8.7" fill="url(#hatch)" stroke="#000" stroke-width="1.6"/>
<rect x="388.5" y="384.8" width="10.1" height="141.7" fill="#2e2e2e" stroke="#000" stroke-width="1.6"/>
<rect x="400.2" y="517.1" width="8.2" height="9.4" fill="url(#hstripeC)" stroke="#000" stroke-width="1.6"/>
<rect x="410" y="441.4" width="9.8" height="85.1" fill="#fff" stroke="#000" stroke-width="1.6"/>
<rect x="421.4" y="524.8" width="8.6" height="1.7" fill="url(#lhatchC)" stroke="#000" stroke-width="1.6"/>
<line x1="375.35" y1="336.3" x2="375.35" y2="350" stroke="#000" stroke-width="1.6" stroke-linecap="butt"/>
<line x1="373.05" y1="336.3" x2="377.65" y2="336.3" stroke="#000" stroke-width="1.92" stroke-linecap="butt"/>
<line x1="373.05" y1="350" x2="377.65" y2="350" stroke="#000" stroke-width="1.92" stroke-linecap="butt"/>
<line x1="384.6" y1="512.3" x2="384.6" y2="521.7" stroke="#000" stroke-width="1.6" stroke-linecap="butt"/>
<line x1="382.3" y1="512.3" x2="386.9" y2="512.3" stroke="#000" stroke-width="1.92" stroke-linecap="butt"/>
<line x1="382.3" y1="521.7" x2="386.9" y2="521.7" stroke="#000" stroke-width="1.92" stroke-linecap="butt"/>
<line x1="393.55" y1="373.8" x2="393.55" y2="393.8" stroke="#000" stroke-width="1.6" stroke-linecap="butt"/>
<line x1="391.25" y1="373.8" x2="395.85" y2="373.8" stroke="#000" stroke-width="1.92" stroke-linecap="butt"/>
<line x1="391.25" y1="393.8" x2="395.85" y2="393.8" stroke="#000" stroke-width="1.92" stroke-linecap="butt"/>
<line x1="404.3" y1="509.2" x2="404.3" y2="521.5" stroke="#000" stroke-width="1.6" stroke-linecap="butt"/>
<line x1="402" y1="509.2" x2="406.6" y2="509.2" stroke="#000" stroke-width="1.92" stroke-linecap="butt"/>
<line x1="402" y1="521.5" x2="406.6" y2="521.5" stroke="#000" stroke-width="1.92" stroke-linecap="butt"/>
<line x1="414.9" y1="413.8" x2="414.9" y2="468.3" stroke="#000" stroke-width="1.6" stroke-linecap="butt"/>
<line x1="412.6" y1="413.8" x2="417.2" y2="413.8" stroke="#000" stroke-width="1.92" stroke-linecap="butt"/>
<line x1="412.6" y1="468.3" x2="417.2" y2="468.3" stroke="#000" stroke-width="1.92" stroke-linecap="butt"/>
<line x1="425.7" y1="522.5" x2="425.7" y2="525.5" stroke="#000" stroke-width="1.6" stroke-linecap="butt"/>
<line x1="423.4" y1="522.5" x2="428" y2="522.5" stroke="#000" stroke-width="1.92" stroke-linecap="butt"/>
<line x1="423.4" y1="525.5" x2="428" y2="525.5" stroke="#000" stroke-width="1.92" stroke-linecap="butt"/>
<line x1="373.8" y1="318.5" x2="373.8" y2="324.5" stroke="#444" stroke-width="1.1" stroke-linecap="round"/>
<line x1="376.4" y1="320" x2="371.2" y2="323" stroke="#444" stroke-width="1.1" stroke-linecap="round"/>
<line x1="376.4" y1="323" x2="371.2" y2="320" stroke="#444" stroke-width="1.1" stroke-linecap="round"/>
<line x1="392.3" y1="355.5" x2="392.3" y2="361.5" stroke="#444" stroke-width="1.1" stroke-linecap="round"/>
<line x1="394.9" y1="357" x2="389.7" y2="360" stroke="#444" stroke-width="1.1" stroke-linecap="round"/>
<line x1="394.9" y1="360" x2="389.7" y2="357" stroke="#444" stroke-width="1.1" stroke-linecap="round"/>
<line x1="413.8" y1="395.5" x2="413.8" y2="401.5" stroke="#444" stroke-width="1.1" stroke-linecap="round"/>
<line x1="416.4" y1="397" x2="411.2" y2="400" stroke="#444" stroke-width="1.1" stroke-linecap="round"/>
<line x1="416.4" y1="400" x2="411.2" y2="397" stroke="#444" stroke-width="1.1" stroke-linecap="round"/>
<rect x="445.4" y="315.3" width="9.8" height="211.2" fill="#000" stroke="#000" stroke-width="1.6"/>
<rect x="456.8" y="343.8" width="8.6" height="182.7" fill="url(#hatch)" stroke="#000" stroke-width="1.6"/>
<rect x="467" y="368.5" width="8.5" height="158" fill="#2e2e2e" stroke="#000" stroke-width="1.6"/>
<rect x="477.1" y="400.8" width="8.3" height="125.7" fill="url(#hstripeC)" stroke="#000" stroke-width="1.6"/>
<rect x="487" y="418.6" width="7.6" height="107.9" fill="#fff" stroke="#000" stroke-width="1.6"/>
<rect x="496.2" y="412.5" width="9.5" height="114" fill="url(#lhatchC)" stroke="#000" stroke-width="1.6"/>
<line x1="450.3" y1="310.8" x2="450.3" y2="318.2" stroke="#000" stroke-width="1.6" stroke-linecap="butt"/>
<line x1="448" y1="310.8" x2="452.6" y2="310.8" stroke="#000" stroke-width="1.92" stroke-linecap="butt"/>
<line x1="448" y1="318.2" x2="452.6" y2="318.2" stroke="#000" stroke-width="1.92" stroke-linecap="butt"/>
<line x1="461.1" y1="324.6" x2="461.1" y2="361.5" stroke="#000" stroke-width="1.6" stroke-linecap="butt"/>
<line x1="458.8" y1="324.6" x2="463.4" y2="324.6" stroke="#000" stroke-width="1.92" stroke-linecap="butt"/>
<line x1="458.8" y1="361.5" x2="463.4" y2="361.5" stroke="#000" stroke-width="1.92" stroke-linecap="butt"/>
<line x1="471.25" y1="345.2" x2="471.25" y2="389.5" stroke="#000" stroke-width="1.6" stroke-linecap="butt"/>
<line x1="468.95" y1="345.2" x2="473.55" y2="345.2" stroke="#000" stroke-width="1.92" stroke-linecap="butt"/>
<line x1="468.95" y1="389.5" x2="473.55" y2="389.5" stroke="#000" stroke-width="1.92" stroke-linecap="butt"/>
<line x1="481.25" y1="388.3" x2="481.25" y2="415.4" stroke="#000" stroke-width="1.6" stroke-linecap="butt"/>
<line x1="478.95" y1="388.3" x2="483.55" y2="388.3" stroke="#000" stroke-width="1.92" stroke-linecap="butt"/>
<line x1="478.95" y1="415.4" x2="483.55" y2="415.4" stroke="#000" stroke-width="1.92" stroke-linecap="butt"/>
<line x1="490.8" y1="377.8" x2="490.8" y2="457.8" stroke="#000" stroke-width="1.6" stroke-linecap="butt"/>
<line x1="488.5" y1="377.8" x2="493.1" y2="377.8" stroke="#000" stroke-width="1.92" stroke-linecap="butt"/>
<line x1="488.5" y1="457.8" x2="493.1" y2="457.8" stroke="#000" stroke-width="1.92" stroke-linecap="butt"/>
<line x1="500.95" y1="382.2" x2="500.95" y2="441.5" stroke="#000" stroke-width="1.6" stroke-linecap="butt"/>
<line x1="498.65" y1="382.2" x2="503.25" y2="382.2" stroke="#000" stroke-width="1.92" stroke-linecap="butt"/>
<line x1="498.65" y1="441.5" x2="503.25" y2="441.5" stroke="#000" stroke-width="1.92" stroke-linecap="butt"/>
<line x1="55.9" y1="606.6" x2="55.9" y2="840.8" stroke="#000" stroke-width="1.4" stroke-linecap="butt"/>
<line x1="51" y1="840.2" x2="516.6" y2="840.2" stroke="#000" stroke-width="1.4" stroke-linecap="butt"/>
<line x1="50.9" y1="840.2" x2="55.9" y2="840.2" stroke="#000" stroke-width="1.3" stroke-linecap="butt"/>
<line x1="50.9" y1="816.9" x2="55.9" y2="816.9" stroke="#000" stroke-width="1.3" stroke-linecap="butt"/>
<line x1="50.9" y1="793.6" x2="55.9" y2="793.6" stroke="#000" stroke-width="1.3" stroke-linecap="butt"/>
<line x1="50.9" y1="770.3" x2="55.9" y2="770.3" stroke="#000" stroke-width="1.3" stroke-linecap="butt"/>
<line x1="50.9" y1="747" x2="55.9" y2="747" stroke="#000" stroke-width="1.3" stroke-linecap="butt"/>
<line x1="50.9" y1="723.7" x2="55.9" y2="723.7" stroke="#000" stroke-width="1.3" stroke-linecap="butt"/>
<line x1="50.9" y1="700.4" x2="55.9" y2="700.4" stroke="#000" stroke-width="1.3" stroke-linecap="butt"/>
<line x1="50.9" y1="677.1" x2="55.9" y2="677.1" stroke="#000" stroke-width="1.3" stroke-linecap="butt"/>
<line x1="50.9" y1="653.8" x2="55.9" y2="653.8" stroke="#000" stroke-width="1.3" stroke-linecap="butt"/>
<line x1="50.9" y1="630.5" x2="55.9" y2="630.5" stroke="#000" stroke-width="1.3" stroke-linecap="butt"/>
<line x1="50.9" y1="607.2" x2="55.9" y2="607.2" stroke="#000" stroke-width="1.3" stroke-linecap="butt"/>
<line x1="132.1" y1="840.2" x2="132.1" y2="843.7" stroke="#000" stroke-width="1.3" stroke-linecap="butt"/>
<line x1="209.2" y1="840.2" x2="209.2" y2="843.7" stroke="#000" stroke-width="1.3" stroke-linecap="butt"/>
<line x1="286.3" y1="840.2" x2="286.3" y2="843.7" stroke="#000" stroke-width="1.3" stroke-linecap="butt"/>
<line x1="362.1" y1="840.2" x2="362.1" y2="843.7" stroke="#000" stroke-width="1.3" stroke-linecap="butt"/>
<line x1="439.5" y1="840.2" x2="439.5" y2="843.7" stroke="#000" stroke-width="1.3" stroke-linecap="butt"/>
<line x1="516" y1="840.2" x2="516" y2="843.2" stroke="#000" stroke-width="1.3" stroke-linecap="butt"/>
<text transform="translate(13.3 611.7) scale(1.0328 1)" font-size="12.32" font-weight="bold" fill="#000">100</text>
<text transform="translate(22.67 658.2) scale(1.1090 1)" font-size="12.32" font-weight="bold" fill="#000">80</text>
<text transform="translate(22.6 704.8) scale(1.1143 1)" font-size="12.32" font-weight="bold" fill="#000">60</text>
<text transform="translate(23 751.4) scale(1.0916 1)" font-size="12.32" font-weight="bold" fill="#000">40</text>
<text transform="translate(22.83 798.1) scale(1.1122 1)" font-size="12.32" font-weight="bold" fill="#000">20</text>
<text transform="translate(33.16 844.5) scale(1.1097 1)" font-size="12.32" font-weight="bold" fill="#000">0</text>
<text transform="translate(11 805.33) rotate(-90) scale(0.9798 1)" font-size="13.52" font-weight="bold" fill="#000">% of donor-derivated cells</text>
<text transform="translate(133.9 611.2) scale(1.0722 1)" font-size="12.14" fill="#000">4 weeks</text>
<text transform="translate(351.93 611) scale(1.0660 1)" font-size="12.56" fill="#000">24 weeks</text>
<text transform="translate(74.52 858.1) scale(0.9762 1)" font-size="13.46" font-weight="bold" fill="#000">B220</text>
<text transform="translate(154.87 858.1) scale(0.9655 1)" font-size="13.46" font-weight="bold" fill="#000">CD3</text>
<text transform="translate(203.98 858.1) scale(0.9842 1)" font-size="12.97" font-weight="bold" fill="#000">GR-1/MAC-1</text>
<text transform="translate(306.5 858.1) scale(0.9990 1)" font-size="13.46" font-weight="bold" fill="#000">B220</text>
<text transform="translate(383.76 858.1) scale(0.9771 1)" font-size="13.46" font-weight="bold" fill="#000">CD3</text>
<text transform="translate(434.47 858.1) scale(1.0029 1)" font-size="12.97" font-weight="bold" fill="#000">GR-1/MAC-1</text>
<rect x="63.2" y="649.8" width="10.4" height="190.4" fill="#000" stroke="#000" stroke-width="1.8"/>
<rect x="75.4" y="761.4" width="6.9" height="78.8" fill="#777" stroke="#000" stroke-width="1.8"/>
<rect x="84.1" y="686.9" width="9.3" height="153.3" fill="#333" stroke="#000" stroke-width="1.8"/>
<rect x="95.2" y="823.4" width="7.8" height="16.8" fill="#555" stroke="#000" stroke-width="1.8"/>
<rect x="104.8" y="726.5" width="9.2" height="113.7" fill="#fff" stroke="#000" stroke-width="1.8"/>
<rect x="115.8" y="833.6" width="8.7" height="6.6" fill="#d0d0d0" stroke="#000" stroke-width="1.8"/>
<line x1="68.4" y1="620.4" x2="68.4" y2="677" stroke="#000" stroke-width="1.6" stroke-linecap="butt"/>
<line x1="66.1" y1="620.4" x2="70.7" y2="620.4" stroke="#000" stroke-width="1.92" stroke-linecap="butt"/>
<line x1="66.1" y1="677" x2="70.7" y2="677" stroke="#000" stroke-width="1.92" stroke-linecap="butt"/>
<line x1="78.85" y1="749" x2="78.85" y2="772" stroke="#000" stroke-width="1.6" stroke-linecap="butt"/>
<line x1="76.55" y1="749" x2="81.15" y2="749" stroke="#000" stroke-width="1.92" stroke-linecap="butt"/>
<line x1="76.55" y1="772" x2="81.15" y2="772" stroke="#000" stroke-width="1.92" stroke-linecap="butt"/>
<line x1="88.75" y1="670.4" x2="88.75" y2="701.8" stroke="#000" stroke-width="1.6" stroke-linecap="butt"/>
<line x1="86.45" y1="670.4" x2="91.05" y2="670.4" stroke="#000" stroke-width="1.92" stroke-linecap="butt"/>
<line x1="86.45" y1="701.8" x2="91.05" y2="701.8" stroke="#000" stroke-width="1.92" stroke-linecap="butt"/>
<line x1="99.1" y1="817.5" x2="99.1" y2="828.3" stroke="#000" stroke-width="1.6" stroke-linecap="butt"/>
<line x1="96.8" y1="817.5" x2="101.4" y2="817.5" stroke="#000" stroke-width="1.92" stroke-linecap="butt"/>
<line x1="96.8" y1="828.3" x2="101.4" y2="828.3" stroke="#000" stroke-width="1.92" stroke-linecap="butt"/>
<line x1="109.4" y1="704" x2="109.4" y2="746.9" stroke="#000" stroke-width="1.6" stroke-linecap="butt"/>
<line x1="107.1" y1="704" x2="111.7" y2="704" stroke="#000" stroke-width="1.92" stroke-linecap="butt"/>
<line x1="107.1" y1="746.9" x2="111.7" y2="746.9" stroke="#000" stroke-width="1.92" stroke-linecap="butt"/>
<line x1="120.15" y1="831" x2="120.15" y2="834" stroke="#000" stroke-width="1.6" stroke-linecap="butt"/>
<line x1="117.85" y1="831" x2="122.45" y2="831" stroke="#000" stroke-width="1.92" stroke-linecap="butt"/>
<line x1="117.85" y1="834" x2="122.45" y2="834" stroke="#000" stroke-width="1.92" stroke-linecap="butt"/>
<text transform="translate(68.7 607.5) scale(1 0.85)" x="-2.97" y="7.62" font-size="15.18" font-weight="bold" fill="#000" style="stroke-width:0.15px">*</text>
<text transform="translate(89 657.8) scale(1 0.85)" x="-2.97" y="7.62" font-size="15.18" font-weight="bold" fill="#000" style="stroke-width:0.15px">*</text>
<text transform="translate(108.8 693.2) scale(1 0.85)" x="-2.97" y="7.62" font-size="15.18" font-weight="bold" fill="#000" style="stroke-width:0.15px">*</text>
<rect x="140.2" y="680" width="9.9" height="160.2" fill="#000" stroke="#000" stroke-width="1.8"/>
<rect x="151.9" y="699.8" width="7.5" height="140.4" fill="#777" stroke="#000" stroke-width="1.8"/>
<rect x="161.2" y="689.9" width="9.2" height="150.3" fill="#333" stroke="#000" stroke-width="1.8"/>
<rect x="172.2" y="775.9" width="7.6" height="64.3" fill="#555" stroke="#000" stroke-width="1.8"/>
<rect x="181.6" y="690.5" width="8.7" height="149.7" fill="#fff" stroke="#000" stroke-width="1.8"/>
<rect x="192.1" y="782.4" width="8.4" height="57.8" fill="#d0d0d0" stroke="#000" stroke-width="1.8"/>
<line x1="145.15" y1="667.5" x2="145.15" y2="690.7" stroke="#000" stroke-width="1.6" stroke-linecap="butt"/>
<line x1="142.85" y1="667.5" x2="147.45" y2="667.5" stroke="#000" stroke-width="1.92" stroke-linecap="butt"/>
<line x1="142.85" y1="690.7" x2="147.45" y2="690.7" stroke="#000" stroke-width="1.92" stroke-linecap="butt"/>
<line x1="155.65" y1="685" x2="155.65" y2="713.4" stroke="#000" stroke-width="1.6" stroke-linecap="butt"/>
<line x1="153.35" y1="685" x2="157.95" y2="685" stroke="#000" stroke-width="1.92" stroke-linecap="butt"/>
<line x1="153.35" y1="713.4" x2="157.95" y2="713.4" stroke="#000" stroke-width="1.92" stroke-linecap="butt"/>
<line x1="165.8" y1="682.3" x2="165.8" y2="696" stroke="#000" stroke-width="1.6" stroke-linecap="butt"/>
<line x1="163.5" y1="682.3" x2="168.1" y2="682.3" stroke="#000" stroke-width="1.92" stroke-linecap="butt"/>
<line x1="163.5" y1="696" x2="168.1" y2="696" stroke="#000" stroke-width="1.92" stroke-linecap="butt"/>
<line x1="176" y1="768.5" x2="176" y2="781.5" stroke="#000" stroke-width="1.6" stroke-linecap="butt"/>
<line x1="173.7" y1="768.5" x2="178.3" y2="768.5" stroke="#000" stroke-width="1.92" stroke-linecap="butt"/>
<line x1="173.7" y1="781.5" x2="178.3" y2="781.5" stroke="#000" stroke-width="1.92" stroke-linecap="butt"/>
<line x1="185.95" y1="674" x2="185.95" y2="705" stroke="#000" stroke-width="1.6" stroke-linecap="butt"/>
<line x1="183.65" y1="674" x2="188.25" y2="674" stroke="#000" stroke-width="1.92" stroke-linecap="butt"/>
<line x1="183.65" y1="705" x2="188.25" y2="705" stroke="#000" stroke-width="1.92" stroke-linecap="butt"/>
<line x1="196.3" y1="773.6" x2="196.3" y2="789.6" stroke="#000" stroke-width="1.6" stroke-linecap="butt"/>
<line x1="194" y1="773.6" x2="198.6" y2="773.6" stroke="#000" stroke-width="1.92" stroke-linecap="butt"/>
<line x1="194" y1="789.6" x2="198.6" y2="789.6" stroke="#000" stroke-width="1.92" stroke-linecap="butt"/>
<text transform="translate(164.9 670.9) scale(1 0.85)" x="-2.97" y="7.62" font-size="15.18" font-weight="bold" fill="#000" style="stroke-width:0.15px">*</text>
<text transform="translate(185.1 660.7) scale(1 0.85)" x="-2.97" y="7.62" font-size="15.18" font-weight="bold" fill="#000" style="stroke-width:0.15px">*</text>
<rect x="216.9" y="649.8" width="8.9" height="190.4" fill="#000" stroke="#000" stroke-width="1.8"/>
<rect x="227.6" y="638.7" width="9" height="201.5" fill="#777" stroke="#000" stroke-width="1.8"/>
<rect x="238.4" y="673" width="8.6" height="167.2" fill="#333" stroke="#000" stroke-width="1.8"/>
<rect x="248.8" y="693.4" width="8.1" height="146.8" fill="#555" stroke="#000" stroke-width="1.8"/>
<rect x="258.7" y="728" width="8.7" height="112.2" fill="#fff" stroke="#000" stroke-width="1.8"/>
<rect x="269.2" y="768.1" width="8.1" height="72.1" fill="#d0d0d0" stroke="#000" stroke-width="1.8"/>
<line x1="221.35" y1="628.2" x2="221.35" y2="669.6" stroke="#000" stroke-width="1.6" stroke-linecap="butt"/>
<line x1="219.05" y1="628.2" x2="223.65" y2="628.2" stroke="#000" stroke-width="1.92" stroke-linecap="butt"/>
<line x1="219.05" y1="669.6" x2="223.65" y2="669.6" stroke="#000" stroke-width="1.92" stroke-linecap="butt"/>
<line x1="232.1" y1="631.1" x2="232.1" y2="644.2" stroke="#000" stroke-width="1.6" stroke-linecap="butt"/>
<line x1="229.8" y1="631.1" x2="234.4" y2="631.1" stroke="#000" stroke-width="1.92" stroke-linecap="butt"/>
<line x1="229.8" y1="644.2" x2="234.4" y2="644.2" stroke="#000" stroke-width="1.92" stroke-linecap="butt"/>
<line x1="242.7" y1="658.7" x2="242.7" y2="685.5" stroke="#000" stroke-width="1.6" stroke-linecap="butt"/>
<line x1="240.4" y1="658.7" x2="245" y2="658.7" stroke="#000" stroke-width="1.92" stroke-linecap="butt"/>
<line x1="240.4" y1="685.5" x2="245" y2="685.5" stroke="#000" stroke-width="1.92" stroke-linecap="butt"/>
<line x1="252.85" y1="671.5" x2="252.85" y2="712.8" stroke="#000" stroke-width="1.6" stroke-linecap="butt"/>
<line x1="250.55" y1="671.5" x2="255.15" y2="671.5" stroke="#000" stroke-width="1.92" stroke-linecap="butt"/>
<line x1="250.55" y1="712.8" x2="255.15" y2="712.8" stroke="#000" stroke-width="1.92" stroke-linecap="butt"/>
<line x1="263.05" y1="705.3" x2="263.05" y2="748.9" stroke="#000" stroke-width="1.6" stroke-linecap="butt"/>
<line x1="260.75" y1="705.3" x2="265.35" y2="705.3" stroke="#000" stroke-width="1.92" stroke-linecap="butt"/>
<line x1="260.75" y1="748.9" x2="265.35" y2="748.9" stroke="#000" stroke-width="1.92" stroke-linecap="butt"/>
<line x1="273.25" y1="744.8" x2="273.25" y2="789.6" stroke="#000" stroke-width="1.6" stroke-linecap="butt"/>
<line x1="270.95" y1="744.8" x2="275.55" y2="744.8" stroke="#000" stroke-width="1.92" stroke-linecap="butt"/>
<line x1="270.95" y1="789.6" x2="275.55" y2="789.6" stroke="#000" stroke-width="1.92" stroke-linecap="butt"/>
<rect x="293.2" y="640.2" width="10.4" height="200" fill="#000" stroke="#000" stroke-width="1.8"/>
<rect x="305.4" y="788.5" width="6.9" height="51.7" fill="#777" stroke="#000" stroke-width="1.8"/>
<rect x="314.1" y="657.6" width="9.3" height="182.6" fill="#333" stroke="#000" stroke-width="1.8"/>
<rect x="325.2" y="816.7" width="7.8" height="23.5" fill="#555" stroke="#000" stroke-width="1.8"/>
<rect x="334.8" y="792.9" width="9.2" height="47.3" fill="#fff" stroke="#000" stroke-width="1.8"/>
<rect x="345.8" y="813.2" width="8.7" height="27" fill="#d0d0d0" stroke="#000" stroke-width="1.8"/>
<line x1="298.4" y1="633.4" x2="298.4" y2="645.2" stroke="#000" stroke-width="1.6" stroke-linecap="butt"/>
<line x1="296.1" y1="633.4" x2="300.7" y2="633.4" stroke="#000" stroke-width="1.92" stroke-linecap="butt"/>
<line x1="296.1" y1="645.2" x2="300.7" y2="645.2" stroke="#000" stroke-width="1.92" stroke-linecap="butt"/>
<line x1="308.85" y1="777.4" x2="308.85" y2="797.2" stroke="#000" stroke-width="1.6" stroke-linecap="butt"/>
<line x1="306.55" y1="777.4" x2="311.15" y2="777.4" stroke="#000" stroke-width="1.92" stroke-linecap="butt"/>
<line x1="306.55" y1="797.2" x2="311.15" y2="797.2" stroke="#000" stroke-width="1.92" stroke-linecap="butt"/>
<line x1="318.75" y1="648" x2="318.75" y2="666.3" stroke="#000" stroke-width="1.6" stroke-linecap="butt"/>
<line x1="316.45" y1="648" x2="321.05" y2="648" stroke="#000" stroke-width="1.92" stroke-linecap="butt"/>
<line x1="316.45" y1="666.3" x2="321.05" y2="666.3" stroke="#000" stroke-width="1.92" stroke-linecap="butt"/>
<line x1="329.1" y1="808.8" x2="329.1" y2="823.3" stroke="#000" stroke-width="1.6" stroke-linecap="butt"/>
<line x1="326.8" y1="808.8" x2="331.4" y2="808.8" stroke="#000" stroke-width="1.92" stroke-linecap="butt"/>
<line x1="326.8" y1="823.3" x2="331.4" y2="823.3" stroke="#000" stroke-width="1.92" stroke-linecap="butt"/>
<line x1="339.4" y1="766.3" x2="339.4" y2="817.5" stroke="#000" stroke-width="1.6" stroke-linecap="butt"/>
<line x1="337.1" y1="766.3" x2="341.7" y2="766.3" stroke="#000" stroke-width="1.92" stroke-linecap="butt"/>
<line x1="337.1" y1="817.5" x2="341.7" y2="817.5" stroke="#000" stroke-width="1.92" stroke-linecap="butt"/>
<line x1="350.15" y1="808" x2="350.15" y2="816.7" stroke="#000" stroke-width="1.6" stroke-linecap="butt"/>
<line x1="347.85" y1="808" x2="352.45" y2="808" stroke="#000" stroke-width="1.92" stroke-linecap="butt"/>
<line x1="347.85" y1="816.7" x2="352.45" y2="816.7" stroke="#000" stroke-width="1.92" stroke-linecap="butt"/>
<text transform="translate(298.7 622.9) scale(1 0.85)" x="-2.97" y="7.62" font-size="15.18" font-weight="bold" fill="#000" style="stroke-width:0.15px">*</text>
<text transform="translate(318.4 638) scale(1 0.85)" x="-2.97" y="7.62" font-size="15.18" font-weight="bold" fill="#000" style="stroke-width:0.15px">*</text>
<rect x="370.2" y="675.9" width="9.9" height="164.3" fill="#000" stroke="#000" stroke-width="1.8"/>
<rect x="381.9" y="775.4" width="6.9" height="64.8" fill="#777" stroke="#000" stroke-width="1.8"/>
<rect x="390.6" y="668.4" width="9.8" height="171.8" fill="#333" stroke="#000" stroke-width="1.8"/>
<rect x="402.2" y="731.8" width="8.7" height="108.4" fill="#555" stroke="#000" stroke-width="1.8"/>
<rect x="412.7" y="770.4" width="7.8" height="69.8" fill="#fff" stroke="#000" stroke-width="1.8"/>
<rect x="422.3" y="790.5" width="9" height="49.7" fill="#d0d0d0" stroke="#000" stroke-width="1.8"/>
<line x1="375.15" y1="666.9" x2="375.15" y2="683" stroke="#000" stroke-width="1.6" stroke-linecap="butt"/>
<line x1="372.85" y1="666.9" x2="377.45" y2="666.9" stroke="#000" stroke-width="1.92" stroke-linecap="butt"/>
<line x1="372.85" y1="683" x2="377.45" y2="683" stroke="#000" stroke-width="1.92" stroke-linecap="butt"/>
<line x1="385.35" y1="768.1" x2="385.35" y2="779.7" stroke="#000" stroke-width="1.6" stroke-linecap="butt"/>
<line x1="383.05" y1="768.1" x2="387.65" y2="768.1" stroke="#000" stroke-width="1.92" stroke-linecap="butt"/>
<line x1="383.05" y1="779.7" x2="387.65" y2="779.7" stroke="#000" stroke-width="1.92" stroke-linecap="butt"/>
<line x1="395.5" y1="657.6" x2="395.5" y2="678.5" stroke="#000" stroke-width="1.6" stroke-linecap="butt"/>
<line x1="393.2" y1="657.6" x2="397.8" y2="657.6" stroke="#000" stroke-width="1.92" stroke-linecap="butt"/>
<line x1="393.2" y1="678.5" x2="397.8" y2="678.5" stroke="#000" stroke-width="1.92" stroke-linecap="butt"/>
<line x1="406.55" y1="724.5" x2="406.55" y2="738" stroke="#000" stroke-width="1.6" stroke-linecap="butt"/>
<line x1="404.25" y1="724.5" x2="408.85" y2="724.5" stroke="#000" stroke-width="1.92" stroke-linecap="butt"/>
<line x1="404.25" y1="738" x2="408.85" y2="738" stroke="#000" stroke-width="1.92" stroke-linecap="butt"/>
<line x1="416.6" y1="760.5" x2="416.6" y2="778" stroke="#000" stroke-width="1.6" stroke-linecap="butt"/>
<line x1="414.3" y1="760.5" x2="418.9" y2="760.5" stroke="#000" stroke-width="1.92" stroke-linecap="butt"/>
<line x1="414.3" y1="778" x2="418.9" y2="778" stroke="#000" stroke-width="1.92" stroke-linecap="butt"/>
<line x1="426.8" y1="785.5" x2="426.8" y2="793.4" stroke="#000" stroke-width="1.6" stroke-linecap="butt"/>
<line x1="424.5" y1="785.5" x2="429.1" y2="785.5" stroke="#000" stroke-width="1.92" stroke-linecap="butt"/>
<line x1="424.5" y1="793.4" x2="429.1" y2="793.4" stroke="#000" stroke-width="1.92" stroke-linecap="butt"/>
<text transform="translate(375.2 653.4) scale(1 0.85)" x="-2.97" y="7.62" font-size="15.18" font-weight="bold" fill="#000" style="stroke-width:0.15px">*</text>
<text transform="translate(395.5 645.3) scale(1 0.85)" x="-2.97" y="7.62" font-size="15.18" font-weight="bold" fill="#000" style="stroke-width:0.15px">*</text>
<text transform="translate(416.2 750) scale(1 0.85)" x="-2.97" y="7.62" font-size="15.18" font-weight="bold" fill="#000" style="stroke-width:0.15px">*</text>
<rect x="447" y="625.9" width="9.9" height="214.3" fill="#000" stroke="#000" stroke-width="1.8"/>
<rect x="458.7" y="636.4" width="8.3" height="203.8" fill="#b0b0b0" stroke="#000" stroke-width="1.8"/>
<rect x="468.8" y="685.2" width="8.1" height="155" fill="#333" stroke="#000" stroke-width="1.8"/>
<rect x="478.7" y="693.9" width="8.7" height="146.3" fill="#444" stroke="#000" stroke-width="1.8"/>
<rect x="489.2" y="730.3" width="8.1" height="109.9" fill="#fff" stroke="#000" stroke-width="1.8"/>
<rect x="499.1" y="736.1" width="8.7" height="104.1" fill="#d0d0d0" stroke="#000" stroke-width="1.8"/>
<line x1="451.95" y1="622.7" x2="451.95" y2="627.3" stroke="#000" stroke-width="1.6" stroke-linecap="butt"/>
<line x1="449.65" y1="622.7" x2="454.25" y2="622.7" stroke="#000" stroke-width="1.92" stroke-linecap="butt"/>
<line x1="449.65" y1="627.3" x2="454.25" y2="627.3" stroke="#000" stroke-width="1.92" stroke-linecap="butt"/>
<line x1="462.85" y1="625.6" x2="462.85" y2="647.1" stroke="#000" stroke-width="1.6" stroke-linecap="butt"/>
<line x1="460.55" y1="625.6" x2="465.15" y2="625.6" stroke="#000" stroke-width="1.92" stroke-linecap="butt"/>
<line x1="460.55" y1="647.1" x2="465.15" y2="647.1" stroke="#000" stroke-width="1.92" stroke-linecap="butt"/>
<line x1="472.85" y1="663.4" x2="472.85" y2="705.3" stroke="#000" stroke-width="1.6" stroke-linecap="butt"/>
<line x1="470.55" y1="663.4" x2="475.15" y2="663.4" stroke="#000" stroke-width="1.92" stroke-linecap="butt"/>
<line x1="470.55" y1="705.3" x2="475.15" y2="705.3" stroke="#000" stroke-width="1.92" stroke-linecap="butt"/>
<line x1="483.05" y1="662.5" x2="483.05" y2="722.7" stroke="#000" stroke-width="1.6" stroke-linecap="butt"/>
<line x1="480.75" y1="662.5" x2="485.35" y2="662.5" stroke="#000" stroke-width="1.92" stroke-linecap="butt"/>
<line x1="480.75" y1="722.7" x2="485.35" y2="722.7" stroke="#000" stroke-width="1.92" stroke-linecap="butt"/>
<line x1="493.25" y1="698.3" x2="493.25" y2="760.5" stroke="#000" stroke-width="1.6" stroke-linecap="butt"/>
<line x1="490.95" y1="698.3" x2="495.55" y2="698.3" stroke="#000" stroke-width="1.92" stroke-linecap="butt"/>
<line x1="490.95" y1="760.5" x2="495.55" y2="760.5" stroke="#000" stroke-width="1.92" stroke-linecap="butt"/>
<line x1="503.45" y1="715.7" x2="503.45" y2="755.6" stroke="#000" stroke-width="1.6" stroke-linecap="butt"/>
<line x1="501.15" y1="715.7" x2="505.75" y2="715.7" stroke="#000" stroke-width="1.92" stroke-linecap="butt"/>
<line x1="501.15" y1="755.6" x2="505.75" y2="755.6" stroke="#000" stroke-width="1.92" stroke-linecap="butt"/>
</svg>
</body></html>
